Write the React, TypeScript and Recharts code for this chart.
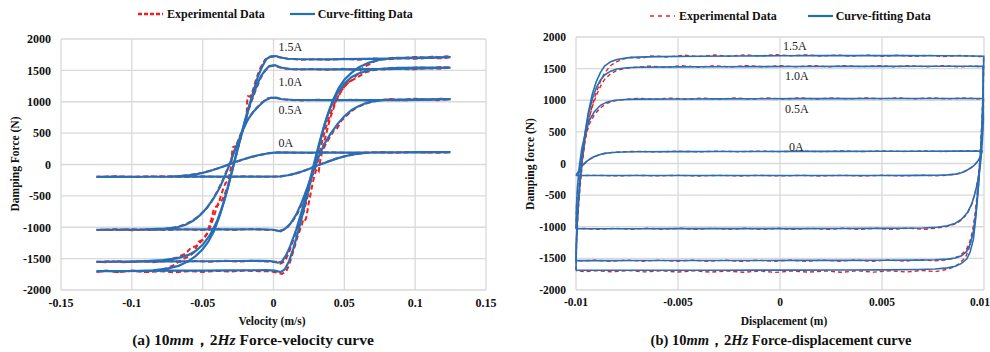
import { CartesianGrid, ReferenceDot, Scatter, ScatterChart, XAxis, YAxis } from 'recharts';

type Pt = [number, number];

const serif = "'Liberation Serif', 'Times New Roman', serif";
const RED = '#f01e1e';
const BLUE = '#2470b8';
const GRID = '#d9d9d9';

const forceTicks = [-2000, -1500, -1000, -500, 0, 500, 1000, 1500, 2000];
const velTicks = [-0.15, -0.1, -0.05, 0, 0.05, 0.1, 0.15];
const dispTicks = [-0.01, -0.005, 0, 0.005, 0.01];
const currentLabels = ['1.5A', '1.0A', '0.5A', '0A'];
// label anchors, in data units (velocity / displacement, force)
const velLabelAt: Pt[] = [[0, 1878], [0, 1320], [0, 867], [0, 345]];
const dispLabelAt: Pt[] = [[-0.0001, 1859], [0, 1380], [0, 871], [0.0002, 272]];

// ---------- Force-velocity: fitted loops ----------
const fitVel15: Pt[] = [
  [-0.125, -1700], [-0.11, -1698], [-0.09, -1695], [-0.07, -1692], [-0.05, -1690], [-0.03, -1687], [-0.015, -1685], [-0.005, -1684],
  [0.001, -1692], [0.005, -1715], [0.008, -1670], [0.011, -1540], [0.014, -1340], [0.018, -1020], [0.022, -660], [0.026, -280],
  [0.03, 100], [0.034, 460], [0.038, 780], [0.042, 1030], [0.046, 1220], [0.05, 1350], [0.055, 1460], [0.06, 1545], [0.067, 1620],
  [0.075, 1670], [0.085, 1695], [0.1, 1705], [0.125, 1710],
  [0.11, 1700], [0.095, 1693], [0.08, 1687], [0.065, 1682], [0.05, 1678], [0.035, 1676], [0.02, 1677], [0.01, 1685], [0.005, 1705],
  [0.002, 1728], [-0.002, 1722], [-0.005, 1680], [-0.008, 1560], [-0.011, 1400], [-0.014, 1180], [-0.018, 880], [-0.022, 540],
  [-0.026, 190], [-0.03, -170], [-0.034, -520], [-0.038, -820], [-0.042, -1060], [-0.046, -1230], [-0.05, -1350], [-0.055, -1460],
  [-0.06, -1540], [-0.067, -1615], [-0.075, -1660], [-0.085, -1688], [-0.1, -1698], [-0.125, -1700],
];
const fitVel10: Pt[] = [
  [-0.125, -1550], [-0.1, -1548], [-0.075, -1545], [-0.05, -1542], [-0.025, -1538], [-0.01, -1535], [-0.002, -1540], [0.003, -1565],
  [0.006, -1545], [0.009, -1440], [0.012, -1290], [0.016, -1040], [0.02, -740], [0.024, -400], [0.028, -40], [0.032, 320], [0.036, 640],
  [0.04, 900], [0.045, 1130], [0.05, 1290], [0.055, 1390], [0.06, 1450], [0.068, 1505], [0.078, 1530], [0.09, 1540], [0.105, 1543],
  [0.125, 1545],
  [0.105, 1533], [0.085, 1525], [0.065, 1520], [0.045, 1517], [0.025, 1518], [0.012, 1522], [0.005, 1545], [0.001, 1585],
  [-0.003, 1570], [-0.006, 1500], [-0.009, 1400], [-0.012, 1250], [-0.016, 1000], [-0.02, 700], [-0.024, 360], [-0.028, 10],
  [-0.032, -350], [-0.036, -660], [-0.04, -910], [-0.045, -1130], [-0.05, -1280], [-0.055, -1380], [-0.06, -1440], [-0.068, -1495],
  [-0.078, -1525], [-0.09, -1540], [-0.105, -1547], [-0.125, -1550],
];
const fitVel05: Pt[] = [
  [-0.125, -1040], [-0.1, -1038], [-0.075, -1036], [-0.05, -1035], [-0.025, -1033], [-0.008, -1032], [0, -1040], [0.004, -1062],
  [0.008, -1030], [0.012, -940], [0.016, -800], [0.02, -600], [0.024, -360], [0.028, -110], [0.032, 130], [0.036, 330], [0.04, 480],
  [0.045, 640], [0.05, 770], [0.055, 865], [0.06, 930], [0.065, 975], [0.07, 1005], [0.078, 1025], [0.09, 1035], [0.105, 1040],
  [0.125, 1042],
  [0.105, 1030], [0.085, 1027], [0.06, 1025], [0.035, 1025], [0.015, 1028], [0.006, 1040], [0.002, 1065], [-0.002, 1062],
  [-0.006, 1020], [-0.01, 940], [-0.014, 845], [-0.018, 720], [-0.022, 530], [-0.026, 300], [-0.03, 60], [-0.034, -170],
  [-0.038, -370], [-0.042, -530], [-0.047, -690], [-0.052, -810], [-0.057, -900], [-0.062, -960], [-0.068, -1000], [-0.076, -1022],
  [-0.09, -1033], [-0.105, -1037], [-0.125, -1040],
];
const fitVel00: Pt[] = [
  [-0.125, -196], [-0.1, -195], [-0.075, -194], [-0.05, -193], [-0.025, -192], [-0.005, -192], [0.005, -190], [0.01, -172],
  [0.015, -145], [0.02, -112], [0.025, -72], [0.03, -25], [0.035, 15], [0.04, 58], [0.045, 97], [0.05, 130], [0.055, 156],
  [0.06, 174], [0.067, 187], [0.075, 193], [0.09, 195], [0.105, 196], [0.125, 196],
  [0.105, 194], [0.085, 192], [0.06, 190], [0.035, 189], [0.015, 190], [0.003, 192], [-0.003, 180], [-0.01, 152], [-0.015, 125],
  [-0.02, 92], [-0.025, 55], [-0.03, 15], [-0.035, -28], [-0.04, -68], [-0.045, -104], [-0.05, -133], [-0.055, -157], [-0.06, -174],
  [-0.067, -186], [-0.075, -192], [-0.09, -195], [-0.105, -196], [-0.125, -196],
];

// ---------- Force-velocity: experimental loops ----------
const expVel15: Pt[] = [
  [-0.125, -1712], [-0.118, -1690], [-0.11, -1718], [-0.1, -1695], [-0.09, -1715], [-0.08, -1700], [-0.07, -1718], [-0.06, -1700],
  [-0.05, -1712], [-0.04, -1695], [-0.03, -1705], [-0.02, -1690], [-0.01, -1700], [-0.002, -1700], [0.003, -1725], [0.006, -1745],
  [0.009, -1700], [0.011, -1600], [0.014, -1380], [0.017, -1150], [0.02, -960], [0.021, -880], [0.022, -900], [0.023, -860],
  [0.025, -600], [0.028, -260], [0.03, -90], [0.031, -60], [0.032, -100], [0.033, 60], [0.036, 380], [0.04, 740], [0.044, 1000],
  [0.048, 1180], [0.052, 1300], [0.056, 1350], [0.06, 1460], [0.064, 1560], [0.068, 1600], [0.072, 1650], [0.078, 1680],
  [0.085, 1705], [0.092, 1695], [0.1, 1715], [0.107, 1700], [0.113, 1722], [0.118, 1705], [0.122, 1725], [0.125, 1715],
  [0.12, 1690], [0.11, 1700], [0.1, 1685], [0.09, 1695], [0.08, 1675], [0.07, 1690], [0.06, 1670], [0.05, 1685], [0.04, 1668],
  [0.03, 1680], [0.02, 1670], [0.01, 1685], [0.004, 1710], [0.001, 1722], [-0.003, 1715], [-0.006, 1670], [-0.009, 1550],
  [-0.012, 1380], [-0.015, 1150], [-0.0165, 1080], [-0.018, 1090], [-0.0185, 1060], [-0.019, 760], [-0.021, 600], [-0.024, 380],
  [-0.026, 290], [-0.028, 285], [-0.029, 270], [-0.0298, -20], [-0.032, -260], [-0.034, -300], [-0.036, -420], [-0.039, -640],
  [-0.042, -700], [-0.044, -880], [-0.047, -1100], [-0.05, -1200], [-0.053, -1230], [-0.056, -1400], [-0.06, -1470], [-0.065, -1520],
  [-0.07, -1600], [-0.075, -1650], [-0.082, -1690], [-0.09, -1705], [-0.1, -1690], [-0.11, -1712], [-0.118, -1695], [-0.125, -1712],
];
const expVel10: Pt[] = [
  [-0.125, -1555], [-0.115, -1540], [-0.105, -1558], [-0.095, -1540], [-0.085, -1556], [-0.075, -1538], [-0.065, -1553],
  [-0.055, -1537], [-0.045, -1550], [-0.035, -1535], [-0.025, -1548], [-0.015, -1533], [-0.005, -1545], [0.002, -1550],
  [0.005, -1580], [0.008, -1540], [0.011, -1400], [0.014, -1200], [0.018, -950], [0.021, -780], [0.024, -520], [0.027, -180],
  [0.03, 20], [0.033, 240], [0.036, 520], [0.04, 800], [0.044, 1020], [0.048, 1180], [0.052, 1290], [0.056, 1350], [0.06, 1400],
  [0.065, 1470], [0.07, 1500], [0.078, 1525], [0.086, 1545], [0.094, 1530], [0.102, 1550], [0.11, 1535], [0.118, 1552],
  [0.125, 1545],
  [0.118, 1525], [0.108, 1535], [0.098, 1515], [0.088, 1530], [0.078, 1512], [0.068, 1528], [0.058, 1510], [0.048, 1525],
  [0.038, 1510], [0.028, 1522], [0.018, 1512], [0.009, 1525], [0.004, 1550], [0, 1575], [-0.003, 1560], [-0.006, 1490],
  [-0.009, 1380], [-0.012, 1220], [-0.016, 980], [-0.02, 690], [-0.024, 350], [-0.028, 0], [-0.032, -330], [-0.036, -560],
  [-0.039, -620], [-0.042, -820], [-0.046, -1080], [-0.05, -1200], [-0.054, -1300], [-0.058, -1320], [-0.062, -1420],
  [-0.068, -1480], [-0.075, -1520], [-0.082, -1545], [-0.09, -1535], [-0.1, -1555], [-0.11, -1540], [-0.118, -1556], [-0.125, -1548],
];
const expVel05: Pt[] = [
  [-0.125, -1045], [-0.112, -1030], [-0.1, -1048], [-0.088, -1032], [-0.076, -1046], [-0.064, -1030], [-0.052, -1044],
  [-0.04, -1030], [-0.028, -1042], [-0.016, -1028], [-0.006, -1040], [0.001, -1045], [0.005, -1068], [0.009, -1020],
  [0.013, -920], [0.017, -780], [0.021, -580], [0.025, -330], [0.029, -80], [0.033, 150], [0.037, 330], [0.041, 480], [0.043, 560],
  [0.045, 580], [0.048, 700], [0.053, 810], [0.058, 900], [0.063, 950], [0.068, 990], [0.074, 1020], [0.082, 1045], [0.09, 1030],
  [0.1, 1048], [0.11, 1032], [0.118, 1048], [0.125, 1040],
  [0.116, 1025], [0.104, 1038], [0.092, 1022], [0.08, 1036], [0.068, 1020], [0.056, 1034], [0.044, 1020], [0.032, 1033],
  [0.02, 1020], [0.01, 1032], [0.004, 1050], [0, 1065], [-0.004, 1055], [-0.008, 990], [-0.012, 900], [-0.016, 790], [-0.02, 650],
  [-0.024, 440], [-0.028, 200], [-0.032, -40], [-0.036, -260], [-0.04, -440], [-0.044, -600], [-0.048, -720], [-0.053, -830],
  [-0.058, -905], [-0.063, -960], [-0.07, -1005], [-0.078, -1030], [-0.088, -1045], [-0.1, -1030], [-0.112, -1046], [-0.125, -1038],
];
const expVel00: Pt[] = [
  [-0.125, -198], [-0.11, -188], [-0.095, -200], [-0.08, -188], [-0.065, -200], [-0.05, -189], [-0.035, -199], [-0.02, -188],
  [-0.005, -197], [0.005, -192], [0.01, -175], [0.015, -150], [0.02, -115], [0.025, -70], [0.03, -25], [0.035, 20], [0.04, 62],
  [0.045, 100], [0.05, 128], [0.055, 150], [0.06, 172], [0.067, 188], [0.075, 198], [0.085, 190], [0.095, 200], [0.105, 190],
  [0.115, 200], [0.125, 194],
  [0.115, 186], [0.1, 196], [0.085, 185], [0.07, 195], [0.055, 184], [0.04, 194], [0.025, 184], [0.01, 193], [0.002, 190],
  [-0.004, 178], [-0.01, 150], [-0.015, 122], [-0.02, 90], [-0.025, 52], [-0.03, 12], [-0.035, -30], [-0.04, -66], [-0.045, -100],
  [-0.05, -130], [-0.055, -150], [-0.06, -170], [-0.068, -188], [-0.076, -198], [-0.088, -186], [-0.1, -198], [-0.112, -188],
  [-0.125, -197],
];

// ---------- Force-displacement: fitted loops ----------
const fitDisp15: Pt[] = [
  [-0.01, -1685], [-0.00998, -1300], [-0.00992, -800], [-0.00982, -350], [-0.0097, 80], [-0.00955, 500], [-0.0094, 800],
  [-0.0092, 1100], [-0.009, 1300], [-0.0088, 1440], [-0.0086, 1540], [-0.0083, 1610], [-0.008, 1645], [-0.0075, 1670],
  [-0.007, 1682], [-0.006, 1690], [-0.004, 1696], [-0.002, 1700], [0, 1703], [0.002, 1705], [0.004, 1706], [0.006, 1706],
  [0.008, 1704], [0.0095, 1700], [0.00999, 1695],
  [0.00995, 1100], [0.0099, 600], [0.00982, 100], [0.00972, -400], [0.0096, -850], [0.00948, -1200], [0.00932, -1400],
  [0.00915, -1510], [0.0089, -1580], [0.0086, -1625], [0.0082, -1650], [0.0076, -1668], [0.0068, -1676], [0.005, -1682],
  [0.003, -1684], [0.001, -1685], [-0.001, -1686], [-0.003, -1687], [-0.005, -1688], [-0.007, -1688], [-0.009, -1688],
  [-0.0097, -1687], [-0.01, -1685],
];
const fitDisp10: Pt[] = [
  [-0.01, -1535], [-0.00998, -1200], [-0.00992, -750], [-0.00982, -300], [-0.0097, 100], [-0.00955, 480], [-0.0094, 760],
  [-0.0092, 1020], [-0.009, 1200], [-0.0088, 1320], [-0.0086, 1400], [-0.0083, 1460], [-0.008, 1495], [-0.0075, 1515],
  [-0.007, 1522], [-0.005, 1528], [-0.003, 1530], [-0.001, 1532], [0.001, 1534], [0.003, 1535], [0.005, 1536], [0.007, 1537],
  [0.009, 1537], [0.00995, 1535],
  [0.00996, 1000], [0.0099, 560], [0.00982, 100], [0.00972, -360], [0.0096, -780], [0.00948, -1080], [0.00932, -1280],
  [0.00915, -1390], [0.0089, -1460], [0.0086, -1495], [0.0082, -1512], [0.0076, -1522], [0.0068, -1527], [0.005, -1530],
  [0.003, -1531], [0.001, -1532], [-0.001, -1533], [-0.003, -1533], [-0.005, -1534], [-0.007, -1534], [-0.009, -1535],
  [-0.0097, -1535], [-0.01, -1535],
];
const fitDisp05: Pt[] = [
  [-0.01, -1030], [-0.00998, -700], [-0.00993, -380], [-0.00985, -80], [-0.00972, 230], [-0.00955, 470], [-0.00935, 680],
  [-0.0091, 820], [-0.0088, 920], [-0.0085, 970], [-0.0081, 1000], [-0.0076, 1012], [-0.007, 1018], [-0.005, 1020],
  [-0.003, 1022], [-0.001, 1024], [0.001, 1025], [0.003, 1026], [0.005, 1027], [0.007, 1028], [0.009, 1028], [0.00995, 1027],
  [0.00997, 700], [0.00992, 360], [0.00984, 40], [0.00972, -240], [0.00957, -460], [0.0094, -640], [0.0092, -770],
  [0.0089, -880], [0.0086, -945], [0.0082, -985], [0.0077, -1008], [0.007, -1020], [0.005, -1026], [0.003, -1028],
  [0.001, -1029], [-0.001, -1030], [-0.003, -1030], [-0.005, -1030], [-0.007, -1031], [-0.009, -1031], [-0.0097, -1031],
  [-0.01, -1030],
];
const fitDisp00: Pt[] = [
  [-0.01, -188], [-0.00985, -110], [-0.0097, -40], [-0.0095, 30], [-0.0092, 95], [-0.0089, 135], [-0.0086, 160], [-0.0082, 175],
  [-0.0077, 183], [-0.007, 186], [-0.005, 188], [-0.003, 189], [-0.001, 190], [0.001, 191], [0.003, 192], [0.005, 193],
  [0.007, 194], [0.009, 195], [0.0099, 197],
  [0.00985, 120], [0.0097, 40], [0.0095, -35], [0.0092, -100], [0.0089, -145], [0.0086, -168], [0.0082, -180], [0.0077, -186],
  [0.007, -188], [0.005, -189], [0.003, -189], [0.001, -190], [-0.001, -190], [-0.003, -190], [-0.005, -190], [-0.007, -190],
  [-0.009, -190], [-0.01, -188],
];

// ---------- Force-displacement: experimental loops ----------
const expDisp15: Pt[] = [
  [-0.01, -1690], [-0.00997, -1250], [-0.0099, -800], [-0.0098, -380], [-0.00968, 20], [-0.00955, 360], [-0.0094, 650],
  [-0.0092, 920], [-0.009, 1130], [-0.0088, 1300], [-0.0086, 1430], [-0.0083, 1550], [-0.008, 1610], [-0.0077, 1650],
  [-0.0073, 1680], [-0.0068, 1665], [-0.0063, 1700], [-0.0055, 1685], [-0.0047, 1712], [-0.004, 1690], [-0.0032, 1715],
  [-0.0025, 1695], [-0.0017, 1718], [-0.001, 1700], [-0.0002, 1722], [0.0005, 1702], [0.0013, 1718], [0.002, 1698],
  [0.0028, 1716], [0.0035, 1696], [0.0043, 1714], [0.005, 1695], [0.0058, 1712], [0.0065, 1693], [0.0073, 1710], [0.008, 1692],
  [0.0088, 1708], [0.0095, 1695], [0.00998, 1690],
  [0.00996, 1200], [0.0099, 700], [0.00982, 200], [0.00972, -280], [0.0096, -700], [0.00945, -1080], [0.00928, -1330],
  [0.0091, -1480], [0.0088, -1580], [0.0085, -1640], [0.0081, -1680], [0.0076, -1710], [0.007, -1690], [0.0062, -1715],
  [0.0054, -1695], [0.0046, -1718], [0.0038, -1696], [0.003, -1720], [0.0022, -1698], [0.0014, -1718], [0.0006, -1698],
  [-0.0002, -1722], [-0.001, -1700], [-0.0018, -1720], [-0.0026, -1698], [-0.0034, -1718], [-0.0042, -1696], [-0.005, -1716],
  [-0.0058, -1695], [-0.0066, -1714], [-0.0074, -1694], [-0.0082, -1712], [-0.009, -1694], [-0.0096, -1710], [-0.01, -1695],
];
const expDisp10: Pt[] = [
  [-0.01, -1535], [-0.00997, -1150], [-0.0099, -700], [-0.0098, -280], [-0.00968, 80], [-0.00955, 400], [-0.0094, 660],
  [-0.0092, 900], [-0.009, 1080], [-0.0088, 1220], [-0.0086, 1330], [-0.0083, 1420], [-0.008, 1470], [-0.0076, 1505],
  [-0.0071, 1520], [-0.0064, 1540], [-0.0056, 1522], [-0.0048, 1545], [-0.004, 1525], [-0.0032, 1546], [-0.0024, 1526],
  [-0.0016, 1548], [-0.0008, 1528], [0, 1548], [0.0008, 1528], [0.0016, 1548], [0.0024, 1528], [0.0032, 1548], [0.004, 1530],
  [0.0048, 1548], [0.0056, 1530], [0.0064, 1546], [0.0072, 1528], [0.008, 1546], [0.0088, 1528], [0.0095, 1540], [0.00998, 1530],
  [0.00996, 1000], [0.0099, 520], [0.00982, 60], [0.00972, -380], [0.0096, -760], [0.00945, -1060], [0.00928, -1260],
  [0.0091, -1380], [0.0088, -1460], [0.0085, -1500], [0.0081, -1525], [0.0076, -1540], [0.0069, -1522], [0.0061, -1545],
  [0.0053, -1525], [0.0045, -1546], [0.0037, -1526], [0.0029, -1546], [0.0021, -1527], [0.0013, -1547], [0.0005, -1527],
  [-0.0003, -1547], [-0.0011, -1528], [-0.0019, -1547], [-0.0027, -1528], [-0.0035, -1546], [-0.0043, -1528], [-0.0051, -1546],
  [-0.0059, -1528], [-0.0067, -1545], [-0.0075, -1528], [-0.0083, -1545], [-0.0091, -1528], [-0.0097, -1540], [-0.01, -1535],
];
const expDisp05: Pt[] = [
  [-0.01, -1030], [-0.00997, -650], [-0.0099, -330], [-0.0098, -60], [-0.00968, 200], [-0.00953, 420], [-0.00935, 620],
  [-0.0091, 770], [-0.0088, 880], [-0.0085, 950], [-0.0081, 990], [-0.0076, 1012], [-0.007, 1030], [-0.0062, 1015],
  [-0.0054, 1034], [-0.0046, 1016], [-0.0038, 1035], [-0.003, 1018], [-0.0022, 1036], [-0.0014, 1018], [-0.0006, 1036],
  [0.0002, 1020], [0.001, 1038], [0.0018, 1020], [0.0026, 1038], [0.0034, 1020], [0.0042, 1038], [0.005, 1022], [0.0058, 1038],
  [0.0066, 1022], [0.0074, 1038], [0.0082, 1022], [0.009, 1036], [0.0096, 1025], [0.00998, 1020],
  [0.00996, 680], [0.0099, 330], [0.00982, 20], [0.0097, -260], [0.00955, -480], [0.00938, -660], [0.00918, -790],
  [0.0089, -895], [0.0086, -955], [0.0082, -995], [0.0077, -1020], [0.0071, -1040], [0.0063, -1022], [0.0055, -1042],
  [0.0047, -1024], [0.0039, -1042], [0.0031, -1024], [0.0023, -1042], [0.0015, -1024], [0.0007, -1042], [-0.0001, -1024],
  [-0.0009, -1042], [-0.0017, -1024], [-0.0025, -1042], [-0.0033, -1024], [-0.0041, -1042], [-0.0049, -1024], [-0.0057, -1040],
  [-0.0065, -1024], [-0.0073, -1040], [-0.0081, -1024], [-0.0089, -1040], [-0.0096, -1026], [-0.01, -1030],
];
const expDisp00: Pt[] = [
  [-0.01, -190], [-0.00985, -115], [-0.0097, -45], [-0.0095, 25], [-0.0092, 92], [-0.0089, 132], [-0.0086, 158], [-0.0082, 176],
  [-0.0077, 186], [-0.007, 192], [-0.006, 184], [-0.005, 194], [-0.004, 185], [-0.003, 195], [-0.002, 186], [-0.001, 196],
  [0, 187], [0.001, 197], [0.002, 188], [0.003, 198], [0.004, 189], [0.005, 198], [0.006, 190], [0.007, 199], [0.008, 190],
  [0.009, 199], [0.0099, 196],
  [0.00985, 118], [0.0097, 38], [0.0095, -38], [0.0092, -104], [0.0089, -148], [0.0086, -170], [0.0082, -184], [0.0077, -194],
  [0.007, -186], [0.006, -196], [0.005, -186], [0.004, -197], [0.003, -187], [0.002, -197], [0.001, -187], [0, -197],
  [-0.001, -187], [-0.002, -197], [-0.003, -187], [-0.004, -197], [-0.005, -187], [-0.006, -196], [-0.007, -187], [-0.008, -196],
  [-0.009, -187], [-0.01, -190],
];

const toPts = (arr: Pt[]) => arr.map(([x, y]) => ({ x, y }));
const noDot = () => <g />;

interface PanelProps {
  left: number;
  width: number;
  yAxisWidth: number;
  rightMargin: number;
  top: number;
  xDomain: [number, number];
  xTicks: number[];
  exp: Pt[][];
  fit: Pt[][];
  labelAt: Pt[];
  fontSize: number;
  expWidth: number;
  expDash: string;
  fitWidth: number;
}

function Panel(p: PanelProps) {
  const tickStyle = { fontFamily: serif, fontWeight: 700, fontSize: p.fontSize, fill: '#111' };
  return (
    <div style={{ position: 'absolute', left: p.left, top: 0 }}>
      <ScatterChart width={p.width} height={320} margin={{ top: p.top, right: p.rightMargin, bottom: 0, left: 0 }}>
        <CartesianGrid stroke={GRID} strokeWidth={1.3} />
        <XAxis
          type="number"
          dataKey="x"
          domain={p.xDomain}
          ticks={p.xTicks}
          height={30}
          axisLine={false}
          tickLine={false}
          tick={tickStyle}
          tickFormatter={(v: number) => String(v)}
        />
        <YAxis
          type="number"
          dataKey="y"
          domain={[-2000, 2000]}
          ticks={forceTicks}
          width={p.yAxisWidth}
          axisLine={false}
          tickLine={false}
          tickMargin={4}
          tick={tickStyle}
        />
        {p.exp.map((loop, i) => (
          <Scatter
            key={'e' + i}
            data={toPts(loop)}
            fill={RED}
            line={{ stroke: RED, strokeWidth: p.expWidth, strokeDasharray: p.expDash }}
            shape={noDot}
            isAnimationActive={false}
          />
        ))}
        {p.fit.map((loop, i) => (
          <Scatter
            key={'f' + i}
            data={toPts(loop)}
            fill={BLUE}
            line={{ stroke: BLUE, strokeWidth: p.fitWidth }}
            shape={noDot}
            isAnimationActive={false}
          />
        ))}
        {p.labelAt.map(([x, y], i) => (
          <ReferenceDot
            key={'l' + i}
            x={x}
            y={y}
            r={0}
            stroke="none"
            fill="none"
            label={{ value: currentLabels[i], position: 'right', offset: 5, fontFamily: serif, fontSize: 12, fill: '#222' }}
          />
        ))}
      </ScatterChart>
    </div>
  );
}

function LegendRow({ left, top, redDash, redWidth, gap }: { left: number; top: number; redDash: string; redWidth: number; gap: number }) {
  const text = { fontFamily: serif, fontWeight: 700, fontSize: 12, color: '#111', whiteSpace: 'nowrap' as const };
  return (
    <div style={{ position: 'absolute', left, top, display: 'flex', alignItems: 'center', height: 14 }}>
      <svg width={25} height={6}>
        <line x1={0} y1={3} x2={25} y2={3} stroke={RED} strokeWidth={redWidth} strokeDasharray={redDash} />
      </svg>
      <span style={{ ...text, marginLeft: 4 }}>Experimental Data</span>
      <svg width={25} height={6} style={{ marginLeft: gap }}>
        <line x1={0} y1={3} x2={25} y2={3} stroke={BLUE} strokeWidth={2.2} />
      </svg>
      <span style={{ ...text, marginLeft: 3 }}>Curve-fitting Data</span>
    </div>
  );
}

const titleStyle = {
  position: 'absolute' as const,
  fontFamily: serif,
  fontWeight: 700,
  color: '#111',
  whiteSpace: 'nowrap' as const,
  transform: 'translate(-50%, -50%)',
};

export default function App() {
  return (
    <div style={{ position: 'absolute', left: 0, top: 0, width: 990, height: 352, background: '#fff', overflow: 'hidden' }}>
      <LegendRow left={138} top={7} redDash="4 2" redWidth={2.6} gap={25} />
      <LegendRow left={650} top={9} redDash="4 4" redWidth={1.6} gap={31} />

      <Panel
        left={0}
        width={500}
        yAxisWidth={61}
        rightMargin={14}
        top={39}
        xDomain={[-0.15, 0.15]}
        xTicks={velTicks}
        exp={[expVel15, expVel10, expVel05, expVel00]}
        fit={[fitVel15, fitVel10, fitVel05, fitVel00]}
        labelAt={velLabelAt}
        fontSize={12}
        expWidth={2}
        expDash="5 3"
        fitWidth={2.2}
      />
      <Panel
        left={500}
        width={490}
        yAxisWidth={76}
        rightMargin={6}
        top={37}
        xDomain={[-0.01, 0.01]}
        xTicks={dispTicks}
        exp={[expDisp15, expDisp10, expDisp05, expDisp00]}
        fit={[fitDisp15, fitDisp10, fitDisp05, fitDisp00]}
        labelAt={dispLabelAt}
        fontSize={11.5}
        expWidth={1.4}
        expDash="4 3"
        fitWidth={1.6}
      />

      <div style={{ ...titleStyle, left: 15, top: 164, fontSize: 11.5, transform: 'translate(-50%, -50%) rotate(-90deg)' }}>
        Damping Force (N)
      </div>
      <div style={{ ...titleStyle, left: 530, top: 164, fontSize: 11.5, transform: 'translate(-50%, -50%) rotate(-90deg)' }}>
        Damping force (N)
      </div>
      <div style={{ ...titleStyle, left: 272, top: 321, fontSize: 11.5 }}>Velocity (m/s)</div>
      <div style={{ ...titleStyle, left: 784, top: 321, fontSize: 11.5 }}>Displacement (m)</div>
      <div style={{ ...titleStyle, left: 253, top: 340, fontSize: 15.5 }}>
        (a) 10<i>mm</i>，2<i>Hz</i> Force-velocity curve
      </div>
      <div style={{ ...titleStyle, left: 781, top: 340, fontSize: 14.5 }}>
        (b) 10<i>mm</i>，2<i>Hz</i> Force-displacement curve
      </div>
    </div>
  );
}
